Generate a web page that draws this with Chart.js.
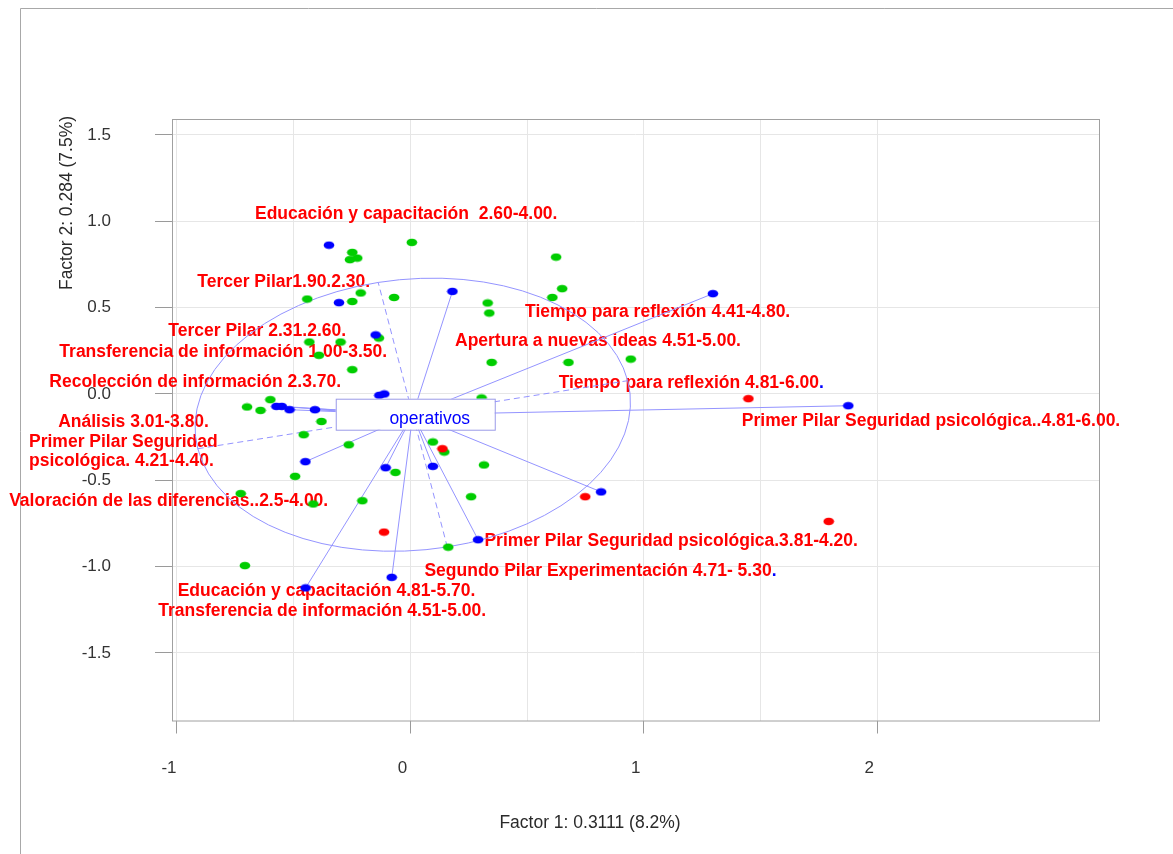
<!DOCTYPE html>
<html>
<head>
<meta charset="utf-8">
<script src="https://cdn.jsdelivr.net/npm/chart.js@4.4.1/dist/chart.umd.min.js"></script>
<style>
  html, body { margin: 0; padding: 0; background: #ffffff; }
  canvas { display: block; }
</style>
</head>
<body>
<canvas id="chart" width="1173" height="854" style="width:1173px;height:854px"></canvas>
<script>
const FONT = '"Liberation Sans", Arial, Helvetica, sans-serif';

// Factor scores (Factor 1, Factor 2) of the category points, by colour group
const bluePoints = [
  [-0.349, 0.862], [-0.306, 0.529], [-0.149, 0.342], [0.180, 0.594],
  [1.296, 0.581], [1.876, -0.068], [-0.133, -0.008], [-0.112, 0.000],
  [-0.574, -0.072], [-0.551, -0.072], [-0.518, -0.091], [-0.409, -0.091],
  [-0.450, -0.392], [-0.106, -0.427], [0.096, -0.419], [0.817, -0.567],
  [0.290, -0.844], [-0.080, -1.062], [-0.449, -1.123]
];
const greenPoints = [
  [0.006, 0.878], [0.624, 0.793], [-0.249, 0.820], [-0.259, 0.778],
  [-0.228, 0.787], [-0.213, 0.585], [-0.442, 0.550], [-0.249, 0.536],
  [-0.070, 0.559], [-0.135, 0.324], [-0.433, 0.301], [-0.299, 0.301],
  [-0.392, 0.224], [-0.249, 0.141], [-0.600, -0.033], [-0.700, -0.075],
  [-0.642, -0.095], [-0.381, -0.159], [-0.457, -0.236], [-0.264, -0.294],
  [-0.494, -0.477], [-0.727, -0.577], [-0.416, -0.637], [-0.206, -0.618],
  [-0.064, -0.454], [0.096, -0.278], [0.145, -0.336], [0.162, -0.887],
  [-0.709, -0.994], [0.260, -0.595], [0.331, 0.527], [0.338, 0.469],
  [0.608, 0.559], [0.650, 0.610], [0.348, 0.183], [0.677, 0.183],
  [0.944, 0.202], [0.305, -0.023], [0.315, -0.411]
];
const redPoints = [
  [1.448, -0.027], [1.792, -0.738], [0.749, -0.595], [0.137, -0.317], [-0.113, -0.800]
];

// Class "operativos": centroid, ellipse half-axes and the members joined to the centroid
const className = 'operativos';
const classCentroid = [0.010, -0.120];
const ellipseAxis1 = [0.921, 0.197];
const ellipseAxis2 = [-0.148, 0.766];
const starMemberIndex = [3, 4, 5, 8, 9, 10, 11, 12, 13, 14, 15, 16, 17, 18];

// Category labels, anchored at the start of their baseline (factor coordinates)
const labelTexts = [
  'Educación y capacitación  2.60-4.00.',
  'Tercer Pilar1.90.2.30.',
  'Tiempo para reflexión 4.41-4.80.',
  'Tercer Pilar 2.31.2.60.',
  'Transferencia de información 1.00-3.50.',
  'Apertura a nuevas ideas 4.51-5.00.',
  'Recolección de información 2.3.70.',
  'Tiempo para reflexión 4.81-6.00.',
  'Primer Pilar Seguridad psicológica..4.81-6.00.',
  'Análisis 3.01-3.80.',
  'Primer Pilar Seguridad\npsicológica. 4.21-4.40.',
  'Valoración de las diferencias..2.5-4.00.',
  'Primer Pilar Seguridad psicológica.3.81-4.20.',
  'Segundo Pilar Experimentación 4.71- 5.30.',
  'Educación y capacitación 4.81-5.70.',
  'Transferencia de información 4.51-5.00.'
];
const labelX = [-0.666, -0.913, 0.491, -1.037, -1.504, 0.191, -1.547, 0.635,
                1.420, -1.509, -1.634, -1.719, 0.317, 0.060, -0.997, -1.080];
const labelY = [1.012, 0.617, 0.444, 0.334, 0.214, 0.276, 0.038, 0.032,
                -0.188, -0.189, -0.305, -0.651, -0.883, -1.056, -1.168, -1.288];
const labelBlueDot = [false, false, false, false, false, false, false, true,
                      false, false, false, false, false, true, false, false];

// Axes
const xRange = [-1.0214, 2.950];
const yRange = [-1.891, 1.5926];
const xGridValues = [-1, -0.5, 0, 0.5, 1, 1.5, 2];
const xTickValues = [-1, 0, 1, 2];
const yGridValues = [-1.5, -1, -0.5, 0, 0.5, 1, 1.5];
const xTitle = 'Factor 1: 0.3111 (8.2%)';
const yTitle = 'Factor 2: 0.284 (7.5%)';

const STAR_COLOR = '#9494ff';

function dotImage(color) {
  const c = document.createElement('canvas');
  c.width = 12; c.height = 9;
  const g = c.getContext('2d');
  g.fillStyle = color;
  g.beginPath();
  g.ellipse(6, 4.5, 5.3, 3.8, 0, 0, Math.PI * 2);
  g.fill();
  return c;
}

const toXY = ([x, y]) => ({ x, y });

const datasets = [];

// star lines from the class centroid to its members
starMemberIndex.forEach(i => {
  datasets.push({
    data: [toXY(classCentroid), toXY(bluePoints[i])],
    showLine: true, borderColor: STAR_COLOR, borderWidth: 1,
    pointRadius: 0, fill: false, order: 20
  });
});

// ellipse axes (dashed diameters)
[ellipseAxis1, ellipseAxis2].forEach(a => {
  datasets.push({
    data: [
      { x: classCentroid[0] - a[0], y: classCentroid[1] - a[1] },
      { x: classCentroid[0] + a[0], y: classCentroid[1] + a[1] }
    ],
    showLine: true, borderColor: STAR_COLOR, borderWidth: 1, borderDash: [6, 4],
    pointRadius: 0, fill: false, order: 20
  });
});

// points
[[greenPoints, '#00cd00'], [redPoints, '#ff0000'], [bluePoints, '#0000ff']].forEach(([pts, col], k) => {
  datasets.push({
    data: pts.map(toXY),
    pointStyle: dotImage(col), pointRadius: 4,
    showLine: false, order: 3 - k
  });
});

const decor = {
  id: 'decor',
  beforeDraw(chart) {
    const c = chart.ctx;
    c.save();
    c.fillStyle = '#ffffff';
    c.fillRect(0, 0, chart.width, chart.height);
    c.strokeStyle = '#a8a8a8';
    c.lineWidth = 1;
    c.beginPath();
    c.moveTo(20.5, chart.height);
    c.lineTo(20.5, 8.5);
    c.lineTo(chart.width, 8.5);
    c.stroke();
    c.restore();
  },
  beforeDatasetsDraw(chart) {
    const c = chart.ctx, a = chart.chartArea;
    const xs = chart.scales.x, ys = chart.scales.y;
    c.save();
    // plot frame
    c.strokeStyle = '#a0a0a0';
    c.lineWidth = 1;
    c.strokeRect(a.left + 0.5, a.top + 0.5, a.right - a.left, a.bottom - a.top);

    // category labels
    c.font = 'bold 17.5px ' + FONT;
    c.textAlign = 'left';
    c.textBaseline = 'alphabetic';
    labelTexts.forEach((t, i) => {
      const px = xs.getPixelForValue(labelX[i]);
      const py = ys.getPixelForValue(labelY[i]);
      t.split('\n').forEach((line, j) => {
        const y = py + j * 19.5;
        if (labelBlueDot[i] && j === t.split('\n').length - 1) {
          const body = line.slice(0, -1);
          c.fillStyle = '#ff0000';
          c.fillText(body, px, y);
          c.fillStyle = '#0000ff';
          c.fillText(line.slice(-1), px + c.measureText(body).width, y);
        } else {
          c.fillStyle = '#ff0000';
          c.fillText(line, px, y);
        }
      });
    });

    // class ellipse
    const cx = xs.getPixelForValue(classCentroid[0]);
    const cy = ys.getPixelForValue(classCentroid[1]);
    const ux = xs.getPixelForValue(classCentroid[0] + ellipseAxis1[0]) - cx;
    const uy = ys.getPixelForValue(classCentroid[1] + ellipseAxis1[1]) - cy;
    const vx = xs.getPixelForValue(classCentroid[0] + ellipseAxis2[0]) - cx;
    const vy = ys.getPixelForValue(classCentroid[1] + ellipseAxis2[1]) - cy;
    c.save();
    c.beginPath();
    c.transform(ux, uy, vx, vy, cx, cy);
    c.arc(0, 0, 1, 0, Math.PI * 2);
    c.restore();
    c.strokeStyle = STAR_COLOR;
    c.lineWidth = 1;
    c.stroke();
    c.restore();
  },
  afterDatasetsDraw(chart) {
    const c = chart.ctx;
    const xs = chart.scales.x, ys = chart.scales.y;
    const cx = xs.getPixelForValue(classCentroid[0]);
    const cy = ys.getPixelForValue(classCentroid[1]);
    c.save();
    // class label box
    c.fillStyle = '#ffffff';
    c.strokeStyle = '#9a9ae8';
    c.lineWidth = 1;
    c.fillRect(cx - 77, cy - 16, 159, 31);
    c.strokeRect(cx - 77 + 0.5, cy - 16 + 0.5, 159, 31);
    c.fillStyle = '#0000ff';
    c.font = '17.5px ' + FONT;
    c.textAlign = 'center';
    c.textBaseline = 'alphabetic';
    c.fillText(className, cx + 17, cy + 9.5);
    c.restore();
  },
  afterDraw(chart) {
    const c = chart.ctx;
    c.save();
    c.fillStyle = '#2a2a2a';
    c.font = '17.5px ' + FONT;
    c.textAlign = 'center';
    c.textBaseline = 'alphabetic';
    c.fillText(xTitle, 590, 827.5);
    c.translate(72, 203);
    c.rotate(-Math.PI / 2);
    c.fillText(yTitle, 0, 0);
    c.restore();
  }
};

new Chart(document.getElementById('chart'), {
  type: 'scatter',
  data: { datasets },
  plugins: [decor],
  options: {
    responsive: false,
    animation: false,
    events: [],
    layout: { padding: { left: 0, top: 119, right: 74, bottom: 0 } },
    plugins: { legend: { display: false }, tooltip: { enabled: false } },
    scales: {
      x: {
        type: 'linear', min: xRange[0], max: xRange[1],
        afterBuildTicks: s => { s.ticks = xGridValues.map(v => ({ value: v })); },
        afterFit: s => { s.height = 133.5; },
        border: { display: false },
        grid: {
          color: '#e6e6e6', lineWidth: 1, drawTicks: true, tickLength: 13,
          tickColor: ctx => (ctx.tick && xTickValues.includes(ctx.tick.value)) ? '#9a9a9a' : 'rgba(0,0,0,0)'
        },
        ticks: {
          autoSkip: false, maxRotation: 0, padding: 25, labelOffset: -8,
          color: '#333333', font: { family: FONT, size: 17 },
          callback: v => xTickValues.includes(v) ? String(v) : ''
        }
      },
      y: {
        type: 'linear', min: yRange[0], max: yRange[1],
        afterBuildTicks: s => { s.ticks = yGridValues.map(v => ({ value: v })); },
        afterFit: s => { s.width = 172; },
        border: { display: false },
        grid: { color: '#e6e6e6', lineWidth: 1, drawTicks: true, tickLength: 17, tickColor: '#9a9a9a' },
        ticks: {
          autoSkip: false, padding: 44,
          color: '#333333', font: { family: FONT, size: 17 },
          callback: v => v.toFixed(1)
        }
      }
    }
  }
});
</script>
</body>
</html>
